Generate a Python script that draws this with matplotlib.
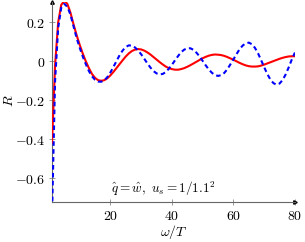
import matplotlib
matplotlib.use("Agg")
from matplotlib import pyplot as plt
from matplotlib.ticker import FuncFormatter

# 数据
x = list(range(1, 81))
r_red = [-0.42, -0.02, 0.20, 0.29, 0.31, 0.295, 0.25, 0.19, 0.135, 0.085,
         0.04, 0.0, -0.035, -0.065, -0.085, -0.097, -0.10, -0.097, -0.087, -0.072,
         -0.054, -0.034, -0.014, 0.006, 0.025, 0.041, 0.053, 0.060, 0.063, 0.061,
         0.055, 0.046, 0.035, 0.022, 0.009, -0.004, -0.016, -0.027, -0.035, -0.040,
         -0.043, -0.043, -0.040, -0.035, -0.028, -0.020, -0.011, -0.002, 0.007, 0.016,
         0.023, 0.029, 0.033, 0.035, 0.034, 0.032, 0.028, 0.022, 0.015, 0.008,
         0.0, -0.008, -0.015, -0.021, -0.025, -0.027, -0.027, -0.026, -0.022, -0.017,
         -0.011, -0.005, 0.001, 0.007, 0.013, 0.018, 0.022, 0.025, 0.026, 0.026]
r_blue = [-0.80, -0.10, 0.17, 0.275, 0.295, 0.28, 0.24, 0.18, 0.12, 0.07,
          0.025, -0.015, -0.05, -0.077, -0.095, -0.104, -0.105, -0.098, -0.081, -0.057,
          -0.028, 0.002, 0.032, 0.056, 0.074, 0.082, 0.080, 0.071, 0.056, 0.036,
          0.013, -0.010, -0.032, -0.050, -0.062, -0.067, -0.065, -0.055, -0.038, -0.018,
          0.005, 0.027, 0.047, 0.060, 0.067, 0.067, 0.059, 0.044, 0.025, 0.002,
          -0.021, -0.042, -0.059, -0.071, -0.075, -0.071, -0.060, -0.041, -0.016, 0.010,
          0.037, 0.062, 0.081, 0.092, 0.096, 0.088, 0.069, 0.041, 0.006, -0.030,
          -0.065, -0.093, -0.112, -0.120, -0.114, -0.096, -0.067, -0.030, 0.010, 0.045]
x_ticks = [20, 40, 60, 80]
y_ticks = [-0.6, -0.4, -0.2, 0, 0.2]

plt.rcParams['mathtext.fontset'] = 'cm'
plt.rcParams['font.family'] = 'DejaVu Serif'

fig = plt.figure(figsize=(3.05, 2.42), dpi=100)
ax = fig.add_axes([0.1705, 0.165, 0.7965, 0.827])

ax.plot(x, r_red, color='red', lw=1.5, solid_capstyle='round', zorder=3)
ax.plot(x, r_blue, color='blue', lw=1.5, dashes=(2.2, 1.6), zorder=4)

ax.set_xlim(1, 80)
ax.set_ylim(-0.723, 0.305)

# 坐标轴样式
for s in ['top', 'right']:
    ax.spines[s].set_visible(False)
for s in ['left', 'bottom']:
    ax.spines[s].set_color('#666666')
    ax.spines[s].set_linewidth(0.8)
ax.plot(1, 0, '>', color='black', ms=2.5, transform=ax.transAxes, clip_on=False)
ax.plot(0, 1, '^', color='black', ms=2.5, transform=ax.transAxes, clip_on=False)

ax.set_xticks(x_ticks)
ax.set_yticks(y_ticks)
ax.xaxis.set_major_formatter(FuncFormatter(lambda v, p: r'$%g$' % v))
ax.yaxis.set_major_formatter(FuncFormatter(lambda v, p: r'$%g$' % v if v != 0 else r'$0$'))
ax.tick_params(direction='inout', length=4, width=0.6, color='#888888',
               labelsize=10, pad=3)

ax.set_xlabel(r'$\omega/T$', fontsize=10, va='center')
ax.set_ylabel(r'$R$', fontsize=10, va='center')
ax.xaxis.set_label_coords(0.5, -0.152)
ax.yaxis.set_label_coords(-0.179, 0.505)

ax.text(37.2, -0.70, r'$\hat{q}=\hat{w},\ u_s=1/1.1^2$', fontsize=9.5,
        ha='center', va='bottom')

fig.savefig('out.png', dpi=100)
